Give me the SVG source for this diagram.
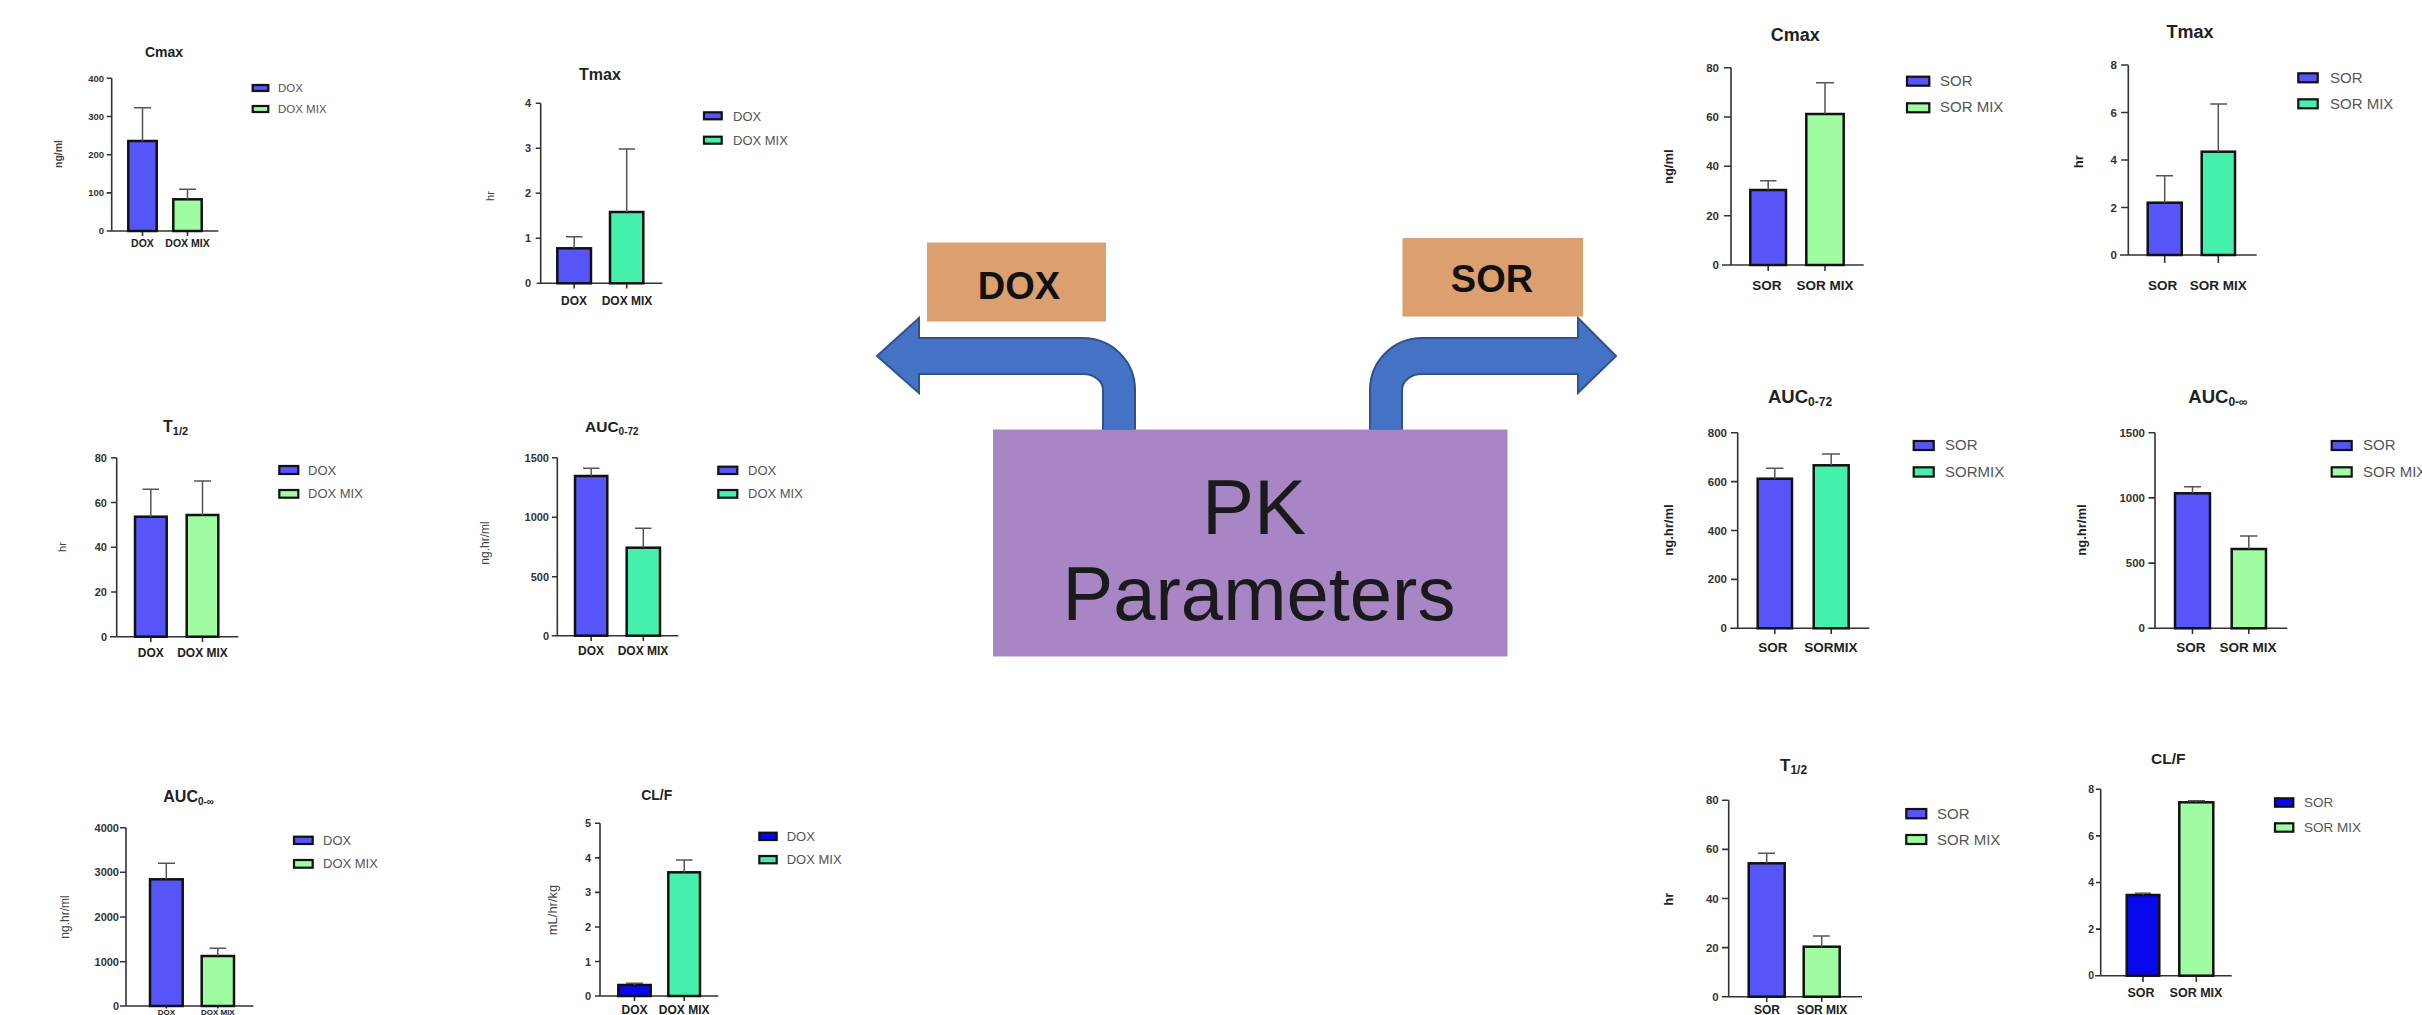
<svg xmlns="http://www.w3.org/2000/svg" width="2422" height="1015" viewBox="0 0 2422 1015">
<style>
text{font-family:"Liberation Sans",Arial,Helvetica,sans-serif}
.ti{font-weight:bold;fill:#222}
.tm{text-anchor:middle}
.tk{font-weight:bold;fill:#333;text-anchor:end}
.xl{font-weight:bold;fill:#222;text-anchor:middle}
.lg{fill:#555}
.yl{fill:#444;text-anchor:middle}
.ylb{font-weight:bold;fill:#222;text-anchor:middle}
.ax{stroke:#333;stroke-width:1.6;fill:none}
.eb{stroke:#555;stroke-width:1.5;fill:none}
.bar{stroke:#111;stroke-width:2.5}
.sw{stroke:#111;stroke-width:2.2}
.cb{fill:#5656F8}.cg{fill:#A0FCA0}.ct{fill:#44F0AC}.cd{fill:#0808EC}
.arr{fill:#4472C4;stroke:#2F528F;stroke-width:2}
.lab{fill:#DC9F6F}
.big{font-family:"Liberation Sans",Arial,sans-serif;fill:#1a1a1a;text-anchor:middle}
</style>
<rect width="2422" height="1015" fill="#fff"/>

<g id="connectors">
<path class="arr" d="M1135 430 L1135 390 A52 52 0 0 0 1083 338 L919 338 L919 318 L877 356 L919 393 L919 374 L1083 374 A20 16 0 0 1 1103 390 L1103 430 Z"/>
<path class="arr" d="M1370 430 L1370 390 A52 52 0 0 1 1422 338 L1578 338 L1578 318 L1616 356 L1578 393 L1578 374 L1422 374 A20 16 0 0 0 1402 390 L1402 430 Z"/>
</g>

<g id="pk-parameters">
<rect x="993" y="429.5" width="514.5" height="227" fill="#A885C4"/>
<text class="big" x="1254" y="534" font-size="78">PK</text>
<text class="big" x="1259" y="620" font-size="76">Parameters</text>
</g>
<g id="dox-label">
<rect class="lab" x="927" y="242.5" width="179" height="79"/>
<text x="1019" y="299" font-size="38" font-weight="bold" fill="#111" text-anchor="middle">DOX</text>
</g>
<g id="sor-label">
<rect class="lab" x="1402.5" y="238" width="180.5" height="78.6"/>
<text x="1492" y="292" font-size="38" font-weight="bold" fill="#111" text-anchor="middle">SOR</text>
</g>

<!-- DOX Cmax -->
<g id="dox-cmax">
<text class="ti tm" x="164" y="57" font-size="14">Cmax</text>
<path class="ax" d="M111.7 78.3 V231 M106.7 231 H218.3 M106.7 78.3 H111.7 M106.7 116.5 H111.7 M106.7 154.7 H111.7 M106.7 192.9 H111.7 M142.5 231 V236 M187.5 231 V236"/>
<g font-size="9.5"><text class="tk" x="104" y="81.5">400</text><text class="tk" x="104" y="119.7">300</text><text class="tk" x="104" y="157.9">200</text><text class="tk" x="104" y="196.1">100</text><text class="tk" x="104" y="234.2">0</text></g>
<rect class="bar cb" x="128.3" y="141" width="28.4" height="90"/>
<rect class="bar cg" x="173.3" y="199.3" width="28.4" height="31.7"/>
<path class="eb" d="M142.5 141 V107.7 M134 107.7 H151 M187.5 199.3 V189.3 M179 189.3 H196"/>
<g font-size="10.5"><text class="xl" x="142.5" y="247">DOX</text><text class="xl" x="187.5" y="247">DOX MIX</text></g>
<rect class="sw cb" x="252.7" y="85" width="15.6" height="6"/><text class="lg" x="278" y="92" font-size="11.5">DOX</text>
<rect class="sw cg" x="252.7" y="106" width="15.6" height="6"/><text class="lg" x="278" y="113" font-size="11.5">DOX MIX</text>
<text class="yl" transform="translate(61.5 154) rotate(-90)" font-size="10.5" font-weight="bold">ng/ml</text>
</g>

<!-- DOX Tmax -->
<g id="dox-tmax">
<text class="ti tm" x="600" y="80" font-size="16">Tmax</text>
<path class="ax" d="M540.7 103.3 V283.3 M536.7 283.3 H662.3 M535.7 103.3 H540.7 M535.7 148.3 H540.7 M535.7 193.3 H540.7 M535.7 238.3 H540.7 M574.2 283.3 V288.5 M626.7 283.3 V288.5"/>
<g font-size="11"><text class="tk" x="531" y="107.3">4</text><text class="tk" x="531" y="152.3">3</text><text class="tk" x="531" y="197.3">2</text><text class="tk" x="531" y="242.3">1</text><text class="tk" x="531" y="287.3">0</text></g>
<rect class="bar cb" x="557.3" y="248.3" width="33.7" height="35"/>
<rect class="bar ct" x="610" y="212" width="33.3" height="71.3"/>
<path class="eb" d="M574.2 248.3 V236.7 M566 236.7 H582.5 M626.7 212 V149 M618.5 149 H635"/>
<g font-size="12"><text class="xl" x="574" y="305">DOX</text><text class="xl" x="627" y="305">DOX MIX</text></g>
<rect class="sw cb" x="704" y="112.3" width="17.7" height="7"/><text class="lg" x="733" y="120.5" font-size="13">DOX</text>
<rect class="sw ct" x="704" y="136.7" width="17.7" height="7"/><text class="lg" x="733" y="145" font-size="13">DOX MIX</text>
<text class="yl" transform="translate(494 196) rotate(-90)" font-size="11">hr</text>
</g>

<!-- DOX T1/2 -->
<g id="dox-t12">
<text class="ti" x="163" y="432" font-size="16">T<tspan font-size="11" dy="3">1/2</tspan></text>
<path class="ax" d="M116.7 457.7 V636.7 M110 636.7 H238.3 M111 457.7 H116.7 M111 502.5 H116.7 M111 547.2 H116.7 M111 592 H116.7 M150.8 636.7 V642 M202.5 636.7 V642"/>
<g font-size="11"><text class="tk" x="107" y="461.7">80</text><text class="tk" x="107" y="506.5">60</text><text class="tk" x="107" y="551.2">40</text><text class="tk" x="107" y="596">20</text><text class="tk" x="107" y="640.7">0</text></g>
<rect class="bar cb" x="135" y="516.7" width="31.7" height="120"/>
<rect class="bar cg" x="186.7" y="515" width="31.6" height="121.7"/>
<path class="eb" d="M150.8 516.7 V489.3 M142.5 489.3 H159 M202.5 515 V481 M194 481 H211"/>
<g font-size="12"><text class="xl" x="150.8" y="657">DOX</text><text class="xl" x="202.5" y="657">DOX MIX</text></g>
<rect class="sw cb" x="279.3" y="466" width="19" height="8"/><text class="lg" x="308" y="474.5" font-size="13">DOX</text>
<rect class="sw cg" x="279.3" y="490" width="19" height="7.7"/><text class="lg" x="308" y="497.5" font-size="13">DOX MIX</text>
<text class="yl" transform="translate(66 547) rotate(-90)" font-size="11">hr</text>
</g>

<!-- DOX AUC0-72 -->
<g id="dox-auc72">
<text class="ti" x="585" y="431.7" font-size="15.5">AUC<tspan font-size="10" dy="3">0-72</tspan></text>
<path class="ax" d="M557.3 457.7 V635.7 M551.7 635.7 H678.3 M552 457.7 H557.3 M552 517.3 H557.3 M552 576.7 H557.3 M591.2 635.7 V641 M643.3 635.7 V641"/>
<g font-size="11"><text class="tk" x="549" y="461.7">1500</text><text class="tk" x="549" y="521.3">1000</text><text class="tk" x="549" y="580.7">500</text><text class="tk" x="549" y="639.7">0</text></g>
<rect class="bar cb" x="575" y="476" width="32.3" height="159.7"/>
<rect class="bar ct" x="626.7" y="547.7" width="33.3" height="88"/>
<path class="eb" d="M591.2 476 V468.3 M583 468.3 H599.5 M643.3 547.7 V528.3 M635 528.3 H651.5"/>
<g font-size="12"><text class="xl" x="591" y="655">DOX</text><text class="xl" x="643" y="655">DOX MIX</text></g>
<rect class="sw cb" x="718.3" y="466.7" width="19" height="7.3"/><text class="lg" x="748" y="475" font-size="13">DOX</text>
<rect class="sw ct" x="718.3" y="490" width="19" height="7.7"/><text class="lg" x="748" y="497.5" font-size="13">DOX MIX</text>
<text class="yl" transform="translate(489 543) rotate(-90)" font-size="12">ng.hr/ml</text>
</g>

<!-- DOX AUC0-inf -->
<g id="dox-aucinf">
<text class="ti" x="163.3" y="801.7" font-size="16">AUC<tspan font-size="10" dy="3">0-∞</tspan></text>
<path class="ax" d="M126 827.7 V1006 M120 1006 H253.3 M120 827.7 H126 M120 872.3 H126 M120 917 H126 M120 961.7 H126 M166.3 1006 V1008.5 M217.8 1006 V1008.5"/>
<g font-size="11"><text class="tk" x="119" y="831.7">4000</text><text class="tk" x="119" y="876.3">3000</text><text class="tk" x="119" y="921">2000</text><text class="tk" x="119" y="965.7">1000</text><text class="tk" x="119" y="1010">0</text></g>
<rect class="bar cb" x="150" y="879.3" width="32.7" height="126.7"/>
<rect class="bar cg" x="201.7" y="956" width="32.3" height="50"/>
<path class="eb" d="M166.3 879.3 V863.3 M158 863.3 H175 M217.8 956 V948.3 M209.5 948.3 H226"/>
<g font-size="8"><text class="xl" x="166.3" y="1014.5">DOX</text><text class="xl" x="217.8" y="1014.5">DOX MIX</text></g>
<rect class="sw cb" x="294" y="836.7" width="18.7" height="7.3"/><text class="lg" x="323" y="845" font-size="13">DOX</text>
<rect class="sw cg" x="294" y="860" width="18.7" height="7.7"/><text class="lg" x="323" y="868" font-size="13">DOX MIX</text>
<text class="yl" transform="translate(69 917) rotate(-90)" font-size="12">ng.hr/ml</text>
</g>

<!-- DOX CL/F -->
<g id="dox-clf">
<text class="ti tm" x="656.7" y="800" font-size="14">CL/F</text>
<path class="ax" d="M600 823.3 V996 M595 996 H718.3 M595 823.3 H600 M595 857.9 H600 M595 892.4 H600 M595 927 H600 M595 961.5 H600 M634.5 996 V1001 M684.2 996 V1001"/>
<g font-size="11"><text class="tk" x="591" y="827.3">5</text><text class="tk" x="591" y="861.9">4</text><text class="tk" x="591" y="896.4">3</text><text class="tk" x="591" y="931">2</text><text class="tk" x="591" y="965.5">1</text><text class="tk" x="591" y="1000">0</text></g>
<rect class="bar cd" x="618.3" y="985" width="32.4" height="11"/>
<rect class="bar ct" x="668.3" y="872.3" width="31.7" height="123.7"/>
<path class="eb" d="M634.5 985 V983.3 M626 983.3 H643 M684.2 872.3 V860 M676 860 H692.5"/>
<g font-size="12"><text class="xl" x="634.5" y="1014">DOX</text><text class="xl" x="684.2" y="1014">DOX MIX</text></g>
<rect class="sw cd" x="759.3" y="832.7" width="17.4" height="7.3"/><text class="lg" x="786.7" y="840.5" font-size="13">DOX</text>
<rect class="sw ct" x="759.3" y="856" width="17.4" height="7.3"/><text class="lg" x="786.7" y="863.5" font-size="13">DOX MIX</text>
<text class="yl" transform="translate(557 910) rotate(-90)" font-size="13">mL/hr/kg</text>
</g>

<!-- SOR Cmax -->
<g id="sor-cmax">
<text class="ti tm" x="1795.3" y="41" font-size="18">Cmax</text>
<path class="ax" d="M1731 67.7 V265 M1722 265 H1863.7 M1724 67.7 H1731 M1724 117 H1731 M1724 166.3 H1731 M1724 215.7 H1731 M1768.2 265 V271 M1825 265 V271"/>
<g font-size="11.5"><text class="tk" x="1719" y="71.7">80</text><text class="tk" x="1719" y="121">60</text><text class="tk" x="1719" y="170.3">40</text><text class="tk" x="1719" y="219.7">20</text><text class="tk" x="1719" y="269">0</text></g>
<rect class="bar cb" x="1750.3" y="190" width="35.7" height="75"/>
<rect class="bar cg" x="1806.3" y="114" width="37.4" height="151"/>
<path class="eb" d="M1768.2 190 V180.7 M1760 180.7 H1776.5 M1825 114 V82.7 M1816 82.7 H1834"/>
<g font-size="13.5"><text class="xl" x="1767" y="290">SOR</text><text class="xl" x="1825" y="290">SOR MIX</text></g>
<rect class="sw cb" x="1907" y="76.7" width="22.3" height="9"/><text class="lg" x="1940" y="86" font-size="15">SOR</text>
<rect class="sw cg" x="1907" y="103.3" width="22.3" height="9"/><text class="lg" x="1940" y="112" font-size="15">SOR MIX</text>
<text class="ylb" transform="translate(1673 166.7) rotate(-90)" font-size="13">ng/ml</text>
</g>

<!-- SOR Tmax -->
<g id="sor-tmax">
<text class="ti tm" x="2190" y="38" font-size="18">Tmax</text>
<path class="ax" d="M2128.3 65 V255 M2120 255 H2256.7 M2121 65 H2128.3 M2121 112.5 H2128.3 M2121 160 H2128.3 M2121 207.5 H2128.3 M2164.7 255 V263 M2218.3 255 V263"/>
<g font-size="11.5"><text class="tk" x="2117" y="69">8</text><text class="tk" x="2117" y="116.5">6</text><text class="tk" x="2117" y="164">4</text><text class="tk" x="2117" y="211.5">2</text><text class="tk" x="2117" y="259">0</text></g>
<rect class="bar cb" x="2147.7" y="202.7" width="34" height="52.3"/>
<rect class="bar ct" x="2201.7" y="151.7" width="33.3" height="103.3"/>
<path class="eb" d="M2164.7 202.7 V175.7 M2156 175.7 H2173 M2218.3 151.7 V104 M2210 104 H2227"/>
<g font-size="13.5"><text class="xl" x="2162.7" y="290">SOR</text><text class="xl" x="2218.3" y="290">SOR MIX</text></g>
<rect class="sw cb" x="2298.3" y="73.3" width="19.4" height="9"/><text class="lg" x="2330" y="82.5" font-size="15">SOR</text>
<rect class="sw ct" x="2298.3" y="99.3" width="19.4" height="9"/><text class="lg" x="2330" y="108.5" font-size="15">SOR MIX</text>
<text class="ylb" transform="translate(2083 161.7) rotate(-90)" font-size="13">hr</text>
</g>

<!-- SOR AUC0-72 -->
<g id="sor-auc72">
<text class="ti" x="1768" y="403.3" font-size="18.5">AUC<tspan font-size="12" dy="3">0-72</tspan></text>
<path class="ax" d="M1737.7 432.7 V628.3 M1730.3 628.3 H1869.3 M1731 432.7 H1737.7 M1731 481.6 H1737.7 M1731 530.5 H1737.7 M1731 579.4 H1737.7 M1774.8 628.3 V634 M1831.2 628.3 V634"/>
<g font-size="11.5"><text class="tk" x="1727" y="436.7">800</text><text class="tk" x="1727" y="485.6">600</text><text class="tk" x="1727" y="534.5">400</text><text class="tk" x="1727" y="583.4">200</text><text class="tk" x="1727" y="632.3">0</text></g>
<rect class="bar cb" x="1757.7" y="478.7" width="34.3" height="149.6"/>
<rect class="bar ct" x="1813.7" y="465.3" width="35" height="163"/>
<path class="eb" d="M1774.8 478.7 V468.3 M1766 468.3 H1783.5 M1831.2 465.3 V454 M1822 454 H1840"/>
<g font-size="13.5"><text class="xl" x="1773" y="651.7">SOR</text><text class="xl" x="1831" y="651.7">SORMIX</text></g>
<rect class="sw cb" x="1913.7" y="441" width="20" height="9"/><text class="lg" x="1945" y="450" font-size="15">SOR</text>
<rect class="sw ct" x="1913.7" y="467.3" width="20" height="9.3"/><text class="lg" x="1945" y="476.7" font-size="15">SORMIX</text>
<text class="ylb" transform="translate(1673 530) rotate(-90)" font-size="13">ng.hr/ml</text>
</g>

<!-- SOR AUC0-inf -->
<g id="sor-aucinf">
<text class="ti" x="2188.3" y="403.3" font-size="18.5">AUC<tspan font-size="12" dy="3">0-∞</tspan></text>
<path class="ax" d="M2155 432.7 V628.3 M2148.3 628.3 H2287.3 M2148.5 432.7 H2155 M2148.5 497.9 H2155 M2148.5 563.1 H2155 M2192.5 628.3 V634 M2248.8 628.3 V634"/>
<g font-size="11.5"><text class="tk" x="2145" y="436.7">1500</text><text class="tk" x="2145" y="501.9">1000</text><text class="tk" x="2145" y="567.1">500</text><text class="tk" x="2145" y="632.3">0</text></g>
<rect class="bar cb" x="2175" y="493.3" width="35" height="135"/>
<rect class="bar cg" x="2231.7" y="549" width="34.3" height="79.3"/>
<path class="eb" d="M2192.5 493.3 V486.7 M2184 486.7 H2201 M2248.8 549 V536 M2240 536 H2257.5"/>
<g font-size="13.5"><text class="xl" x="2191" y="651.7">SOR</text><text class="xl" x="2248" y="651.7">SOR MIX</text></g>
<rect class="sw cb" x="2331.7" y="441" width="20" height="9"/><text class="lg" x="2363" y="450" font-size="15">SOR</text>
<rect class="sw cg" x="2331.7" y="467.3" width="20" height="9.3"/><text class="lg" x="2363" y="476.7" font-size="15">SOR MIX</text>
<text class="ylb" transform="translate(2085.5 530) rotate(-90)" font-size="13">ng.hr/ml</text>
</g>

<!-- SOR T1/2 -->
<g id="sor-t12">
<text class="ti" x="1780" y="770.7" font-size="17">T<tspan font-size="12" dy="3">1/2</tspan></text>
<path class="ax" d="M1728.7 800.3 V996.7 M1722 996.7 H1862 M1722 800.3 H1728.7 M1722 849.4 H1728.7 M1722 898.5 H1728.7 M1722 947.6 H1728.7 M1766.7 996.7 V1002 M1821.7 996.7 V1002"/>
<g font-size="11.5"><text class="tk" x="1718.7" y="804.3">80</text><text class="tk" x="1718.7" y="853.4">60</text><text class="tk" x="1718.7" y="902.5">40</text><text class="tk" x="1718.7" y="951.6">20</text><text class="tk" x="1718.7" y="1000.7">0</text></g>
<rect class="bar cb" x="1748.7" y="863.3" width="36" height="133.4"/>
<rect class="bar cg" x="1803.7" y="946.7" width="36" height="50"/>
<path class="eb" d="M1766.7 863.3 V853.3 M1758 853.3 H1775 M1821.7 946.7 V936 M1813 936 H1830"/>
<g font-size="12"><text class="xl" x="1767" y="1013.5">SOR</text><text class="xl" x="1822" y="1013.5">SOR MIX</text></g>
<rect class="sw cb" x="1906.3" y="809" width="20" height="9.3"/><text class="lg" x="1937" y="818.5" font-size="15">SOR</text>
<rect class="sw cg" x="1906.3" y="835" width="20" height="9"/><text class="lg" x="1937" y="844.5" font-size="15">SOR MIX</text>
<text class="ylb" transform="translate(1673 899.3) rotate(-90)" font-size="13">hr</text>
</g>

<!-- SOR CL/F -->
<g id="sor-clf">
<text class="ti tm" x="2168.3" y="764.3" font-size="15.5">CL/F</text>
<path class="ax" d="M2100.7 789.3 V975.7 M2095 975.7 H2231.7 M2096 789.3 H2100.7 M2096 835.9 H2100.7 M2096 882.5 H2100.7 M2096 929.1 H2100.7 M2143 975.7 V982 M2196.3 975.7 V982"/>
<g font-size="10.5"><text class="tk" x="2094" y="793">8</text><text class="tk" x="2094" y="839.6">6</text><text class="tk" x="2094" y="886.2">4</text><text class="tk" x="2094" y="932.8">2</text><text class="tk" x="2094" y="979.4">0</text></g>
<rect class="bar cd" x="2126.7" y="895" width="32.6" height="80.7"/>
<rect class="bar cg" x="2179.3" y="802.3" width="34" height="173.4"/>
<path class="eb" d="M2143 895 V893.3 M2135 893.3 H2151 M2196.3 802.3 V800.7 M2188 800.7 H2205"/>
<g font-size="12.5"><text class="xl" x="2141" y="996.7">SOR</text><text class="xl" x="2196" y="996.7">SOR MIX</text></g>
<rect class="sw cd" x="2275" y="798.3" width="18.3" height="8.4"/><text class="lg" x="2304" y="806.5" font-size="13.5">SOR</text>
<rect class="sw cg" x="2275" y="823.3" width="18.3" height="8.4"/><text class="lg" x="2304" y="831.5" font-size="13.5">SOR MIX</text>
</g>
</svg>
